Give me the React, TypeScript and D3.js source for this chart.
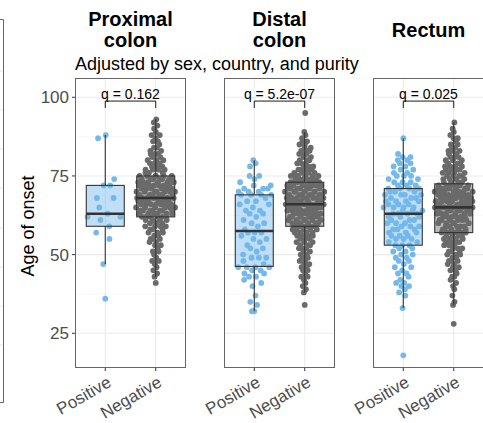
import React from 'react';
import * as d3 from 'd3';

const categories = ['Positive', 'Negative'];
const panelTitles = [['Proximal', 'colon'], ['Distal', 'colon'], ['Rectum']];
const qLabels = ['q = 0.162', 'q = 5.2e-07', 'q = 0.025'];
const subtitle = 'Adjusted by sex, country, and purity';
const yLabel = 'Age of onset';
const yTicks = [25, 50, 75, 100];
const yMinorTicks = [37.5, 62.5, 87.5];

const proximalPositive = [88, 87, 74, 72, 72, 68, 68, 65, 63, 62, 62, 61, 59, 57, 55, 47, 36];
const proximalNegative = [
  93, 92, 91, 90, 89, 88, 88, 87, 86, 86, 85, 84, 84, 83, 83, 82, 82, 82, 81, 81, 80, 80, 80, 79, 79, 79, 78, 78, 78,
  77, 77, 77, 77, 76, 76, 76,
  75, 75, 75, 75, 75, 75, 74, 74, 74, 74, 74, 74, 74, 73, 73, 73, 73, 73, 73, 72, 72, 72, 72, 72, 72, 72,
  71, 71, 71, 71, 71, 71, 70, 70, 70, 70, 70, 70, 70, 69, 69, 69, 69, 69, 69, 68, 68, 68, 68, 68, 68, 68,
  67, 67, 67, 67, 67, 67, 66, 66, 66, 66, 66, 66, 66, 65, 65, 65, 65, 65, 65, 64, 64, 64, 64, 64, 64, 64,
  63, 63, 63, 63, 63, 63, 62, 62, 62, 62, 62, 62,
  61, 61, 61, 61, 60, 60, 60, 59, 59, 59, 59, 58, 58, 58, 57, 57, 57, 56, 56, 55, 55, 55, 54, 54, 53, 53,
  52, 51, 51, 50, 49, 48, 48, 47, 46, 45, 44, 43, 41,
];
const distalPositive = [
  80, 79, 78, 75, 75, 74, 73, 72, 72, 71, 71, 71, 70, 70, 70, 69, 69, 69, 69, 68, 67, 67, 66, 66, 65, 64, 64,
  63, 63, 62, 61, 60, 60, 59, 58, 57, 57, 57, 56, 55, 55, 54, 53, 52, 52, 51, 50, 49, 49, 49, 48, 47, 46, 46,
  46, 46, 45, 45, 44, 44, 43, 43, 42, 41, 40, 37, 35, 34, 32, 32,
];
const distalNegative = [
  95, 89, 88, 87, 86, 86, 85, 85, 84, 84, 83, 83, 83, 82, 82, 82, 81, 81, 80, 80, 80, 79, 79, 79, 78, 78, 78,
  77, 77, 77, 77, 76, 76, 76, 76,
  75, 75, 75, 75, 75, 75, 74, 74, 74, 74, 74, 74, 73, 73, 73, 73, 73, 73, 73, 72, 72, 72, 72, 72, 72, 72,
  71, 71, 71, 71, 71, 71, 71, 70, 70, 70, 70, 70, 70, 70, 70, 69, 69, 69, 69, 69, 69, 69,
  68, 68, 68, 68, 68, 68, 68, 68, 67, 67, 67, 67, 67, 67, 67, 66, 66, 66, 66, 66, 66, 66, 66,
  65, 65, 65, 65, 65, 65, 65, 64, 64, 64, 64, 64, 64, 64, 63, 63, 63, 63, 63, 63, 63,
  62, 62, 62, 62, 62, 62, 61, 61, 61, 61, 61, 61, 60, 60, 60, 60, 60, 60, 59, 59, 59, 59, 59, 59,
  58, 58, 58, 58, 58, 57, 57, 57, 57, 56, 56, 56, 56, 55, 55, 55, 54, 54, 54, 53, 53, 53, 52, 52, 52,
  51, 51, 50, 50, 49, 49, 48, 48, 47, 47, 46, 46, 45, 45, 44, 43, 43, 42, 41, 40, 39, 38, 34,
];
const rectumPositive = [
  87, 82, 81, 81, 80, 80, 79, 79, 78, 78, 77, 77, 76, 76, 75, 75, 75, 74, 74, 73, 73, 73, 72, 72, 72,
  71, 71, 71, 71, 70, 70, 70, 69, 69, 69, 69, 68, 68, 68, 67, 67, 67, 67, 66, 66, 66, 65, 65, 65, 65,
  64, 64, 64, 63, 63, 63, 63, 62, 62, 62, 61, 61, 61, 60, 60, 60, 59, 59, 59, 58, 58, 58, 57, 57, 57,
  56, 56, 56, 55, 55, 55, 54, 54, 53, 53, 53, 52, 52, 51, 51, 50, 50, 49, 49, 48, 48, 47, 46, 46, 45,
  44, 44, 43, 42, 41, 41, 40, 40, 39, 38, 37, 33, 18,
];
const rectumNegative = [
  92, 90, 89, 88, 87, 87, 86, 85, 85, 84, 84, 83, 83, 83, 82, 82, 81, 81, 81, 80, 80, 80, 79, 79, 79,
  78, 78, 78, 78, 77, 77, 77, 77, 76, 76, 76, 76, 75, 75, 75, 75, 74, 74, 74, 74, 73, 73, 73, 73,
  72, 72, 72, 72, 72, 72, 71, 71, 71, 71, 71, 71, 71, 70, 70, 70, 70, 70, 70, 70, 69, 69, 69, 69, 69, 69, 69,
  68, 68, 68, 68, 68, 68, 68, 67, 67, 67, 67, 67, 67, 67, 66, 66, 66, 66, 66, 66, 66,
  65, 65, 65, 65, 65, 65, 65, 64, 64, 64, 64, 64, 64, 64, 63, 63, 63, 63, 63, 63, 62, 62, 62, 62, 62, 62,
  61, 61, 61, 61, 61, 61, 60, 60, 60, 60, 60, 59, 59, 59, 59, 59, 58, 58, 58, 58, 58, 57, 57, 57, 57, 57,
  56, 56, 56, 56, 55, 55, 55, 55, 54, 54, 54, 54, 53, 53, 53, 52, 52, 52, 51, 51, 51, 50, 50, 50,
  49, 49, 48, 48, 48, 47, 47, 46, 46, 45, 45, 44, 43, 43, 42, 41, 40, 39, 37, 35, 34, 28,
];

const panelData = [
  [proximalPositive, proximalNegative],
  [distalPositive, distalNegative],
  [rectumPositive, rectumNegative],
];

const groupColors = ['#74B9EA', '#6A6A6A'];

const FONT = 'Liberation Sans, Arial, Helvetica, sans-serif';
const W = 483;
const H = 423;
const PANEL_LEFT0 = 75;
const PANEL_STEP = 149;
const PANEL_W = 111;
const PANEL_TOP = 78;
const PANEL_BOTTOM = 368;
const POINT_R = 2.9;
const QR_WIDTH = 0.4; // fraction of category step
const BOX_W = 38;

const yScale = d3.scaleLinear().domain([13.97, 106.13]).range([PANEL_BOTTOM, PANEL_TOP]);

function boxStats(vals: number[]) {
  const s = [...vals].sort((a, b) => a - b);
  const q1 = d3.quantile(s, 0.25) as number;
  const med = d3.quantile(s, 0.5) as number;
  const q3 = d3.quantile(s, 0.75) as number;
  const iqr = q3 - q1;
  const lo = d3.min(s.filter((v) => v >= q1 - 1.5 * iqr)) as number;
  const hi = d3.max(s.filter((v) => v <= q3 + 1.5 * iqr)) as number;
  return { q1, med, q3, lo, hi };
}

function vanDerCorput(n: number) {
  const out: number[] = [];
  for (let i = 1; i <= n; i++) {
    let f = 1;
    let r = 0;
    let k = i;
    while (k > 0) {
      f /= 2;
      r += f * (k % 2);
      k = Math.floor(k / 2);
    }
    out.push(r);
  }
  return out;
}

// quasirandom offsets (like ggbeeswarm::geom_quasirandom), returned in [-1, 1]
function quasirandom(vals: number[]) {
  const n = vals.length;
  const s = [...vals].sort((a, b) => a - b);
  const sd = d3.deviation(s) as number;
  const iqr = (d3.quantile(s, 0.75) as number) - (d3.quantile(s, 0.25) as number);
  const bw = 0.5 * 0.9 * Math.min(sd, iqr / 1.34) * Math.pow(n, -0.2);
  const dens = (y: number) => {
    let t = 0;
    for (const v of s) {
      const z = (y - v) / bw;
      t += Math.exp(-0.5 * z * z);
    }
    return t;
  };
  let maxD = 0;
  const lo = s[0] - 3 * bw;
  const hi = s[n - 1] + 3 * bw;
  for (let y = lo; y <= hi; y += 0.1) maxD = Math.max(maxD, dens(y));
  const vdc = vanDerCorput(n);
  const idx = vals.map((v, i) => ({ v, i })).sort((a, b) => a.v - b.v || a.i - b.i);
  const offs = new Array(n).fill(0);
  idx.forEach((o, rank) => {
    offs[o.i] = (vdc[rank] * 2 - 1) * (dens(o.v) / maxD);
  });
  return vals.map((v, i) => ({ v, o: offs[i] }));
}

function Panel({ idx }: { idx: number }) {
  const x0 = PANEL_LEFT0 + PANEL_STEP * idx;
  const x1 = x0 + PANEL_W;
  const xScale = d3.scalePoint<string>().domain(categories).range([x0, x1]).padding(0.6);
  const step = xScale.step();
  const groups = panelData[idx];
  const xp = xScale('Positive') as number;
  const xn = xScale('Negative') as number;
  const bracketY = yScale(98.8);
  const bracketTipY = yScale(96.6);
  return (
    <g>
      <defs>
        <clipPath id={`clip${idx}`}>
          <rect x={x0} y={PANEL_TOP} width={PANEL_W} height={PANEL_BOTTOM - PANEL_TOP} />
        </clipPath>
      </defs>
      <rect x={x0} y={PANEL_TOP} width={PANEL_W} height={PANEL_BOTTOM - PANEL_TOP} fill="#fff" />
      <g clipPath={`url(#clip${idx})`}>
        {yMinorTicks.map((t) => (
          <line key={'mi' + t} x1={x0} x2={x1} y1={yScale(t)} y2={yScale(t)} stroke="#f2f2f2" strokeWidth={0.6} />
        ))}
        {yTicks.map((t) => (
          <line key={'ma' + t} x1={x0} x2={x1} y1={yScale(t)} y2={yScale(t)} stroke="#ebebeb" strokeWidth={1.1} />
        ))}
        {categories.map((c) => (
          <line key={'v' + c} x1={xScale(c)} x2={xScale(c)} y1={PANEL_TOP} y2={PANEL_BOTTOM} stroke="#ebebeb" strokeWidth={1.1} />
        ))}
        {groups.map((vals, gi) => {
          const cx = xScale(categories[gi]) as number;
          const pts = quasirandom(vals);
          return (
            <g key={'pts' + gi}>
              {pts.map((p, i) => (
                <circle key={i} cx={cx + p.o * QR_WIDTH * step} cy={yScale(p.v)} r={POINT_R} fill={groupColors[gi]} />
              ))}
            </g>
          );
        })}
        {groups.map((vals, gi) => {
          const cx = xScale(categories[gi]) as number;
          const s = boxStats(vals);
          return (
            <g key={'box' + gi}>
              <line x1={cx} x2={cx} y1={yScale(s.hi)} y2={yScale(s.q3)} stroke="#333" strokeWidth={1.1} />
              <line x1={cx} x2={cx} y1={yScale(s.q1)} y2={yScale(s.lo)} stroke="#333" strokeWidth={1.1} />
              <rect
                x={cx - BOX_W / 2}
                y={yScale(s.q3)}
                width={BOX_W}
                height={yScale(s.q1) - yScale(s.q3)}
                fill={groupColors[gi]}
                fillOpacity={0.45}
                stroke="#333"
                strokeWidth={1.1}
              />
              <line x1={cx - BOX_W / 2} x2={cx + BOX_W / 2} y1={yScale(s.med)} y2={yScale(s.med)} stroke="#333" strokeWidth={2.6} />
            </g>
          );
        })}
      </g>
      <rect x={x0 + 0.5} y={PANEL_TOP + 0.5} width={PANEL_W - 1} height={PANEL_BOTTOM - PANEL_TOP - 1} fill="none" stroke="#666" strokeWidth={1} />
      <path d={`M${xp},${bracketTipY}V${bracketY}H${xn}V${bracketTipY}`} fill="none" stroke="#000" strokeWidth={0.9} />
      <text x={(xp + xn) / 2} y={bracketY - 2} textAnchor="middle" fontSize={14} fontFamily={FONT} fill="#000">
        {qLabels[idx]}
      </text>
      {categories.map((c) => {
        const cx = xScale(c) as number;
        return (
          <g key={'xt' + c}>
            <line x1={cx} x2={cx} y1={PANEL_BOTTOM} y2={PANEL_BOTTOM + 3} stroke="#333" strokeWidth={1} />
            <text
              transform={`translate(${cx + 1},${PANEL_BOTTOM + 7}) rotate(-30)`}
              textAnchor="end"
              dy="0.72em"
              fontSize={17}
              fontFamily={FONT}
              fill="#4d4d4d"
            >
              {c}
            </text>
          </g>
        );
      })}
      {idx === 0 &&
        yTicks.map((t) => (
          <g key={'yt' + t}>
            <line x1={x0 - 3} x2={x0} y1={yScale(t)} y2={yScale(t)} stroke="#333" strokeWidth={1} />
            <text x={x0 - 6} y={yScale(t)} dy="0.36em" textAnchor="end" fontSize={17} fontFamily={FONT} fill="#4d4d4d">
              {t}
            </text>
          </g>
        ))}
      {panelTitles[idx].map((line, li) => {
        const n = panelTitles[idx].length;
        const baseY = n === 1 ? 36.5 : 26 + li * 21;
        return (
          <text key={'t' + li} x={(x0 + x1) / 2} y={baseY} textAnchor="middle" fontSize={20} fontWeight="bold" fontFamily={FONT} fill="#000">
            {line}
          </text>
        );
      })}
    </g>
  );
}

const stubGrid = [32, 71, 110, 149, 188, 228, 267, 306, 345];

export default function App() {
  return (
    <svg width={W} height={H} style={{ position: 'absolute', left: 0, top: 0, background: '#fff' }}>
      <rect x={0} y={0} width={W} height={H} fill="#fff" />
      {stubGrid.map((g) => (
        <line key={g} x1={0} x2={3} y1={g} y2={g} stroke="#ebebeb" strokeWidth={1} />
      ))}
      <path d="M0,19.5H3.5V402.5H0" fill="none" stroke="#666" strokeWidth={1} />
      <text transform={`translate(34,226) rotate(-90)`} textAnchor="middle" fontSize={18} fontFamily={FONT} fill="#000">
        {yLabel}
      </text>
      <text x={75} y={70} fontSize={18} fontFamily={FONT} fill="#000">
        {subtitle}
      </text>
      {[0, 1, 2].map((i) => (
        <Panel key={i} idx={i} />
      ))}
    </svg>
  );
}
